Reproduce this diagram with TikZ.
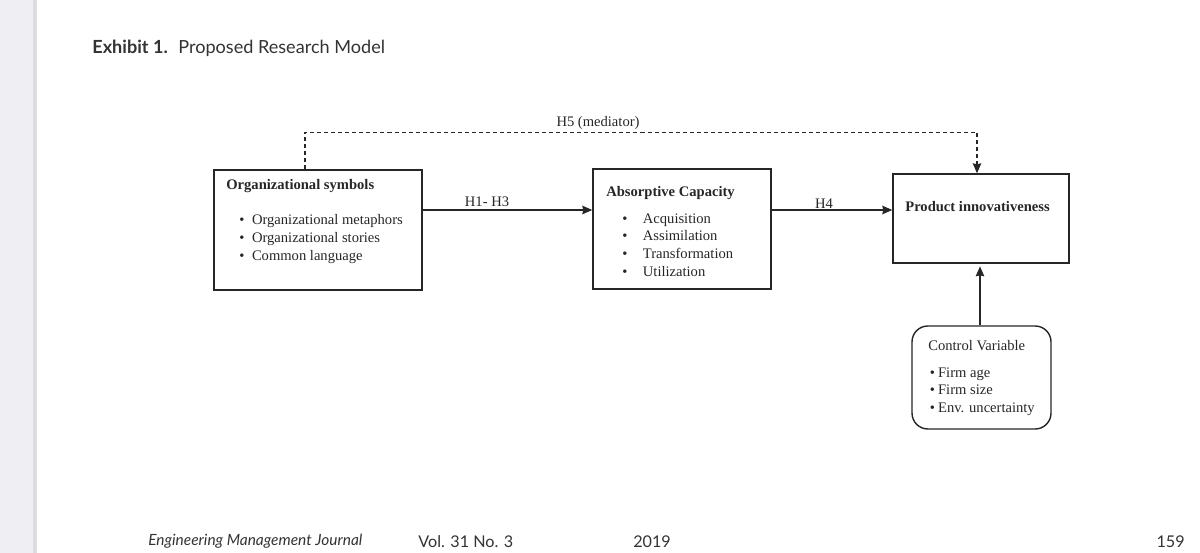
\documentclass[tikz,border=0pt]{standalone}
\usepackage{fontspec}
\setmainfont{Liberation Serif}
\newfontfamily\latofam{Lato}
\usetikzlibrary{arrows.meta, positioning}

\definecolor{ink}{HTML}{262626}
\definecolor{pagegray}{HTML}{EFEFF3}
\definecolor{edgegray}{HTML}{DCDCE0}

\tikzstyle{box} = [rectangle, draw=ink, line width=0.8pt, inner sep=0pt]
\tikzstyle{roundbox} = [box, rounded corners=9pt]
\tikzstyle{heading} = [font=\fontsize{8.3}{10.2}\selectfont\bfseries, text=ink, anchor=west, inner sep=0pt]
\tikzstyle{items} = [font=\fontsize{8.3}{10.2}\selectfont, text=ink, align=left, anchor=north west, inner sep=0pt]
\tikzstyle{hyp} = [font=\fontsize{8.3}{10.2}\selectfont, text=ink, inner sep=0pt]
\tikzstyle{arrow} = [draw=ink, line width=0.8pt, -{Stealth[length=2mm, width=1.7mm, inset=0.2mm]}]
\tikzstyle{dasharrow} = [arrow, line width=0.7pt, dash pattern=on 2.3pt off 1.7pt]
\tikzstyle{pagetext} = [font=\latofam\fontsize{9.2}{11}\selectfont, text=black!80, inner sep=0pt]

\begin{document}
\begin{tikzpicture}[x=0.02cm, y=-0.02cm]

    \useasboundingbox (0,0) rectangle (1200,553);
    \fill[pagegray] (0,0) rectangle (37,553);
    \fill[edgegray] (33,0) rectangle (37,553);

    \node (title) [pagetext, anchor=west, font=\latofam\fontsize{10.3}{12}\selectfont] at (92,48.5) {\textbf{Exhibit 1.}\hspace{6pt}Proposed Research Model};

    \node (orgsym) [box, minimum width=4.16cm, minimum height=2.4cm] at (318,230) {};
    \node (orgsymhead) [heading] at (226,186.5) {Organizational symbols};
    \node (orgsymitems) [items] at (239,214) {\textbullet\hspace{4.3pt}Organizational metaphors\\ \textbullet\hspace{4.3pt}Organizational stories\\ \textbullet\hspace{4.3pt}Common language};

    \node (absorp) [box, minimum width=3.56cm, minimum height=2.4cm] at (682,229) {};
    \node (absorphead) [heading] at (606,193) {Absorptive Capacity};
    \node (absorpitems) [items] at (622,213) {\textbullet\hspace{8.8pt}Acquisition\\ \textbullet\hspace{8.8pt}Assimilation\\ \textbullet\hspace{8.8pt}Transformation\\ \textbullet\hspace{8.8pt}Utilization};

    \node (prodinn) [box, minimum width=3.52cm, minimum height=1.78cm] at (981,218.5) {};
    \node (prodinnhead) [heading] at (905,207) {Product innovativeness};

    \node (control) [roundbox, minimum width=2.78cm, minimum height=2.06cm] at (981.5,377.5) {};
    \node (controlhead) [hyp, anchor=west] at (928,346) {Control Variable};
    \node (controlitems) [items] at (929.5,367) {\textbullet\hspace{1.8pt}Firm age\\ \textbullet\hspace{1.8pt}Firm size\\ \textbullet\hspace{1.8pt}Env. uncertainty};

    \draw [arrow] ([yshift=0.4cm]orgsym.east) -- ([yshift=0.4cm]orgsym.east -| absorp.west);
    \draw [arrow] ([yshift=0.38cm]absorp.east) -- ([yshift=0.38cm]absorp.east -| prodinn.west);
    \draw [arrow, shorten >=1.5pt] ([xshift=-0.03cm]control.north) -- ([xshift=-0.03cm]control.north |- prodinn.south);
    \draw [dasharrow] ([xshift=-0.26cm]orgsym.north) -- ++(0,-37) -| ([xshift=-0.08cm]prodinn.north);

    \node (h13) [hyp] at (487,202) {H1- H3};
    \node (h4) [hyp] at (824,204) {H4};
    \node (h5) [hyp] at (598,123) {H5 (mediator)};

    \node (journal) [pagetext, anchor=west, font=\latofam\itshape\fontsize{8.8}{11}\selectfont] at (148,541.5) {Engineering Management Journal};
    \node (volume) [pagetext, anchor=west] at (418,541.5) {Vol. 31 No. 3};
    \node (year) [pagetext, anchor=west] at (633,541.5) {2019};
    \node (page) [pagetext, anchor=east] at (1185,541.5) {159};

\end{tikzpicture}
\end{document}
